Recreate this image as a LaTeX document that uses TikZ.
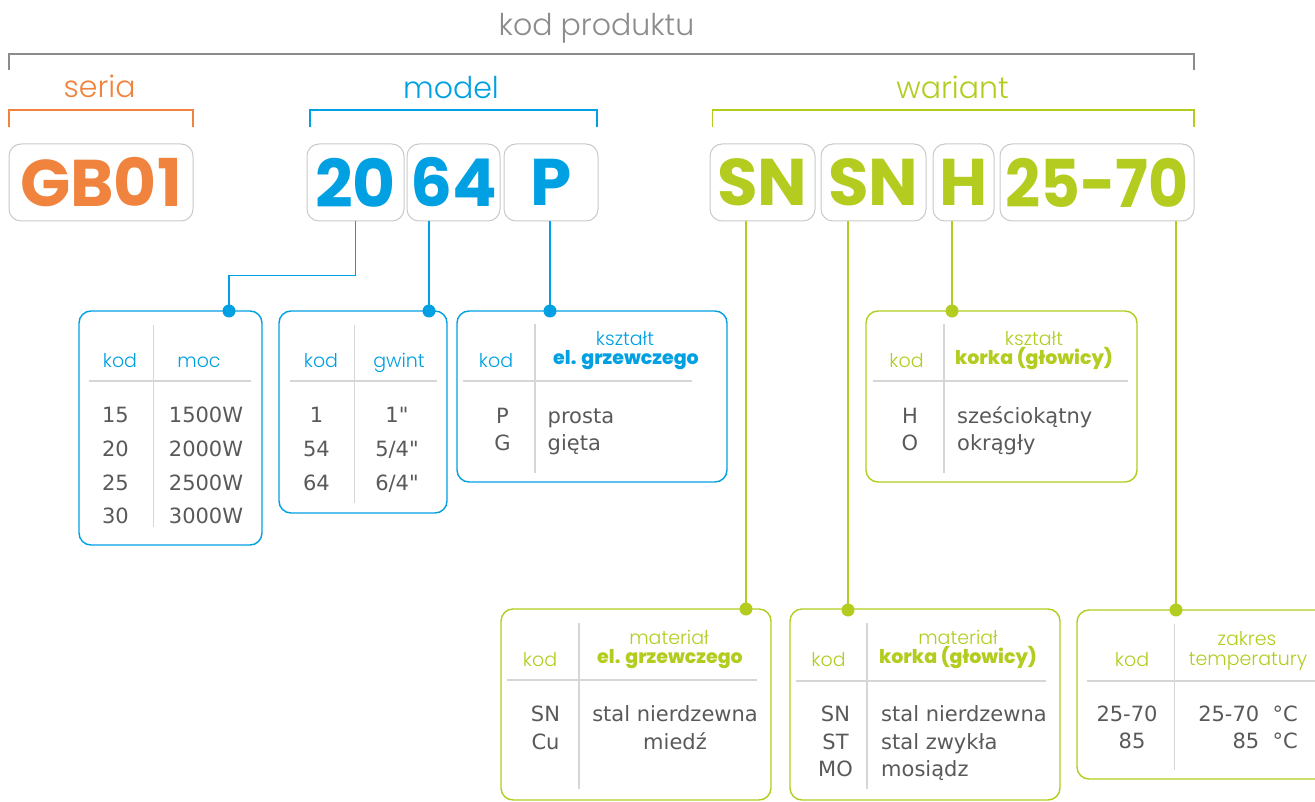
\documentclass[tikz,border=0pt]{standalone}
\usepackage{fontspec}
\setmainfont{DejaVu Sans}[Ligatures=TeXOff]
\newfontfamily\popfont{Poppins}
\newfontfamily\poplight{Poppins Light}
\newfontfamily\popheavy{Poppins ExtraBold}

\definecolor{seriaorange}{HTML}{F0843F}
\definecolor{modelblue}{HTML}{00A0E2}
\definecolor{wariantgreen}{HTML}{B3CC1F}
\definecolor{framegray}{HTML}{C9C9C9}
\definecolor{rulegray}{HTML}{D6D6D6}
\definecolor{datagray}{HTML}{595959}
\definecolor{titlegray}{HTML}{8C8C8C}

\tikzset{
  codebox/.style={draw=framegray, line width=1pt, rounded corners=12pt, inner sep=0pt,
    minimum height=77pt, text=#1, font=\popfont\bfseries\fontsize{66}{66}\selectfont},
  tablebox/.style={draw=#1, line width=1.4pt, rounded corners=12pt, inner sep=0pt},
  hook/.style={draw=#1, line width=1.4pt},
  dot/.style={circle, fill=#1, inner sep=0pt, minimum size=13pt},
  grouptxt/.style={font=\poplight\fontsize{30}{30}\selectfont, text=#1, anchor=base, inner sep=0pt},
  headtxt/.style={font=\poplight\fontsize{19}{19}\selectfont, text=#1, anchor=base, inner sep=0pt},
  boldtxt/.style={font=\popheavy\fontsize{19}{19}\selectfont, text=#1, anchor=base, inner sep=0pt},
  datatxt/.style={font=\fontsize{21}{21}\selectfont, text=datagray, anchor=base, inner sep=0pt},
  rule/.style={draw=rulegray, line width=1.5pt},
  bracket/.style={draw=#1, line width=1.2pt}
}

\begin{document}
\begin{tikzpicture}[x=1pt, y=-1pt]
\useasboundingbox (0,0) rectangle (1315,802);
\clip (0,0) rectangle (1315,802);

% group labels and brackets
\node[grouptxt=titlegray] (kodprod) at (596.5,36) {kod produktu};
\draw[bracket=titlegray] (9,70) -- (9,54) -- (1194,54) -- (1194,70);
\node[grouptxt=seriaorange] (seria) at (99.6,97.7) {seria};
\draw[bracket=seriaorange] (9,127) -- (9,110) -- (193,110) -- (193,127);
\node[grouptxt=modelblue] (model) at (451,98.3) {model};
\draw[bracket=modelblue] (310,127) -- (310,110) -- (597,110) -- (597,127);
\node[grouptxt=wariantgreen] (wariant) at (952.6,98.3) {wariant};
\draw[bracket=wariantgreen] (712.5,127) -- (712.5,110) -- (1194,110) -- (1194,127);

% code boxes
\node[codebox=seriaorange, minimum width=184pt] (gb) at (101,182.5) {GB01};
\node[codebox=modelblue, minimum width=97pt] (c20) at (355.5,182.5) {20};
\node[codebox=modelblue, minimum width=93pt] (c64) at (453.5,182.5) {64};
\node[codebox=modelblue, minimum width=94pt] (cP) at (551,182.5) {P};
\node[codebox=wariantgreen, minimum width=105pt] (cSNa) at (762.5,182.5) {SN};
\node[codebox=wariantgreen, minimum width=105pt] (cSNb) at (873.5,182.5) {SN};
\node[codebox=wariantgreen, minimum width=61pt] (cH) at (963.5,182.5) {H};
\node[codebox=wariantgreen, minimum width=194pt] (cT) at (1097,182.5) {\scalebox{0.93}[1]{25-70}};

% table frames
\node[tablebox=modelblue, minimum width=183pt, minimum height=234pt] (tmoc) at (170.5,428) {};
\node[tablebox=modelblue, minimum width=168pt, minimum height=202pt] (tgwint) at (363,412) {};
\node[tablebox=modelblue, minimum width=270pt, minimum height=171pt] (tksel) at (592,396.5) {};
\node[tablebox=wariantgreen, minimum width=271pt, minimum height=171pt] (tkskor) at (1001.5,396.5) {};
\node[tablebox=wariantgreen, minimum width=270pt, minimum height=191pt] (tmatel) at (636,704.5) {};
\node[tablebox=wariantgreen, minimum width=270pt, minimum height=191pt] (tmatkor) at (925,704.5) {};
\node[tablebox=wariantgreen, minimum width=270pt, minimum height=169pt] (ttemp) at (1212,694.5) {};

% connectors
\coordinate (p20) at (229,311);
\coordinate (p64) at (429,311);
\coordinate (pP) at (550,311);
\coordinate (pH) at (952,311);
\coordinate (pSNa) at (746,609);
\coordinate (pSNb) at (848,610);
\coordinate (pT) at (1176,610);
\draw[hook=modelblue] (c20.south) -- ++(0,54) -| (p20);
\draw[hook=modelblue] (c64.south -| p64) -- (p64);
\draw[hook=modelblue] (cP.south -| pP) -- (pP);
\draw[hook=wariantgreen] (cSNa.south -| pSNa) -- (pSNa);
\draw[hook=wariantgreen] (cSNb.south -| pSNb) -- (pSNb);
\draw[hook=wariantgreen] (cH.south -| pH) -- (pH);
\draw[hook=wariantgreen] (cT.south -| pT) -- (pT);
\node[dot=modelblue] (d20) at (p20) {};
\node[dot=modelblue] (d64) at (p64) {};
\node[dot=modelblue] (dP) at (pP) {};
\node[dot=wariantgreen] (dH) at (pH) {};
\node[dot=wariantgreen] (dSNa) at (pSNa) {};
\node[dot=wariantgreen] (dSNb) at (pSNb) {};
\node[dot=wariantgreen] (dT) at (pT) {};

% table rules
\draw[rule] (153.5,325) -- (153.5,527);
\draw[rule] (89,381) -- (251,381);
\draw[rule] (354.5,325) -- (354.5,503);
\draw[rule] (290,381) -- (437,381);
\draw[rule] (535,324) -- (535,473);
\draw[rule] (463,381) -- (692,381);
\draw[rule] (944,324) -- (944,473);
\draw[rule] (873,381) -- (1128,381);
\draw[rule] (579,623) -- (579,789);
\draw[rule] (507,680) -- (757,680);
\draw[rule] (867,623) -- (867,789);
\draw[rule] (796,681) -- (1046,681);
\draw[rule] (1174.5,624) -- (1174.5,770);
\draw[rule] (1087,681) -- (1315,681);

% moc
\node[headtxt=modelblue] (mocK) at (120,367) {kod};
\node[headtxt=modelblue] (mocH) at (199,367) {moc};
\node[datatxt] (moc1k) at (115.5,422) {15};
\node[datatxt] (moc1v) at (206,422) {1500W};
\node[datatxt] (moc2k) at (115.5,456) {20};
\node[datatxt] (moc2v) at (206,456) {2000W};
\node[datatxt] (moc3k) at (115.5,490) {25};
\node[datatxt] (moc3v) at (206,490) {2500W};
\node[datatxt] (moc4k) at (115.5,523) {30};
\node[datatxt] (moc4v) at (206,523) {3000W};

% gwint
\node[headtxt=modelblue] (gwK) at (321,367) {kod};
\node[headtxt=modelblue] (gwH) at (399,367) {gwint};
\node[datatxt] (gw1k) at (316.5,422) {1};
\node[datatxt] (gw1v) at (397,422) {1"};
\node[datatxt] (gw2k) at (316.5,456.5) {54};
\node[datatxt] (gw2v) at (397,456.5) {5/4"};
\node[datatxt] (gw3k) at (316.5,490) {64};
\node[datatxt] (gw3v) at (397,490) {6/4"};

% ksztalt el. grzewczego
\node[headtxt=modelblue] (kselK) at (496,367) {kod};
\node[headtxt=modelblue] (kselH) at (625,345) {kształt};
\node[boldtxt=modelblue] (kselB) at (626,364) {el. grzewczego};
\node[datatxt] (ksel1k) at (502.5,423) {P};
\node[datatxt, anchor=base west] (ksel1v) at (547.5,423) {prosta};
\node[datatxt] (ksel2k) at (502.5,450) {G};
\node[datatxt, anchor=base west] (ksel2v) at (547.5,450) {gięta};

% ksztalt korka
\node[headtxt=wariantgreen] (kskK) at (906.5,367) {kod};
\node[headtxt=wariantgreen] (kskH) at (1034,345) {kształt};
\node[boldtxt=wariantgreen] (kskB) at (1034,364) {korka (głowicy)};
\node[datatxt] (ksk1k) at (910,423) {H};
\node[datatxt, anchor=base west] (ksk1v) at (957,423) {sześciokątny};
\node[datatxt] (ksk2k) at (910,450) {O};
\node[datatxt, anchor=base west] (ksk2v) at (957,450) {okrągły};

% material el. grzewczego
\node[headtxt=wariantgreen] (melK) at (540,666) {kod};
\node[headtxt=wariantgreen] (melH) at (669,644) {materiał};
\node[boldtxt=wariantgreen] (melB) at (670,663) {el. grzewczego};
\node[datatxt] (mel1k) at (545.5,721.5) {SN};
\node[datatxt] (mel1v) at (675,721.5) {stal nierdzewna};
\node[datatxt] (mel2k) at (545.5,749) {Cu};
\node[datatxt] (mel2v) at (675,749) {miedź};

% material korka
\node[headtxt=wariantgreen] (mkK) at (828.5,666) {kod};
\node[headtxt=wariantgreen] (mkH) at (958,644) {materiał};
\node[boldtxt=wariantgreen] (mkB) at (958,663) {korka (głowicy)};
\node[datatxt] (mk1k) at (835.5,721.5) {SN};
\node[datatxt, anchor=base west] (mk1v) at (881,721.5) {stal nierdzewna};
\node[datatxt] (mk2k) at (835.5,749) {ST};
\node[datatxt, anchor=base west] (mk2v) at (881,749) {stal zwykła};
\node[datatxt] (mk3k) at (835.5,776) {MO};
\node[datatxt, anchor=base west] (mk3v) at (881,776) {mosiądz};

% zakres temperatury
\node[headtxt=wariantgreen] (tK) at (1132,666) {kod};
\node[headtxt=wariantgreen] (tH) at (1247,645) {zakres};
\node[headtxt=wariantgreen] (tH2) at (1248,665) {temperatury};
\node[datatxt] (t1k) at (1127,721) {25-70};
\node[datatxt, anchor=base east] (t1v) at (1298,721) {25-70~~°C};
\node[datatxt] (t2k) at (1132,748) {85};
\node[datatxt, anchor=base east] (t2v) at (1298,748) {85~~°C};
\end{tikzpicture}
\end{document}
